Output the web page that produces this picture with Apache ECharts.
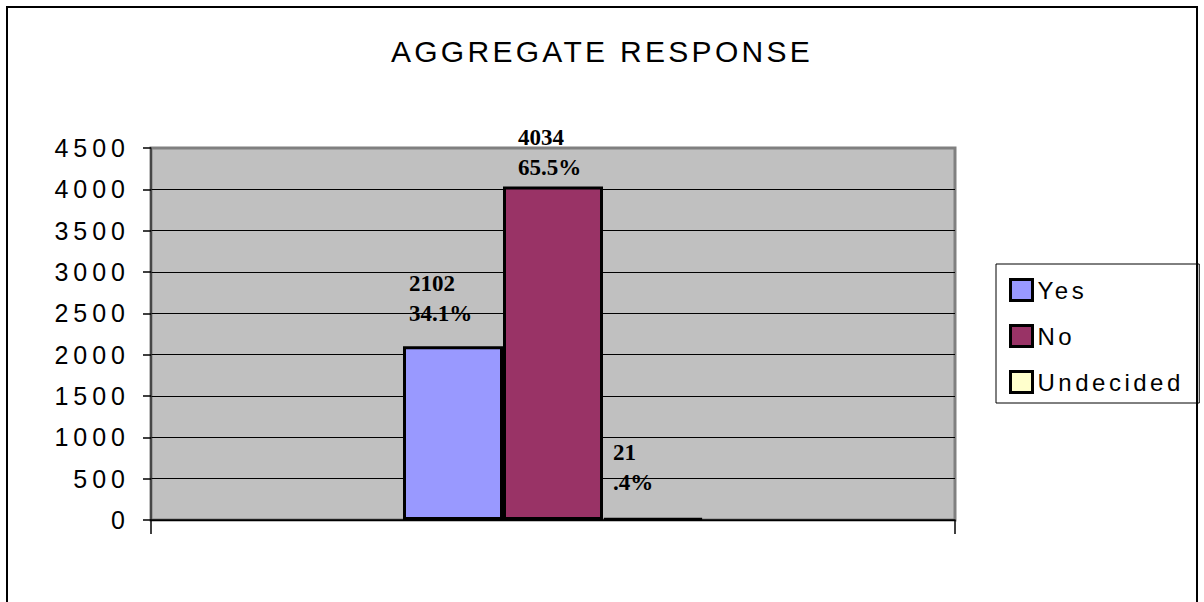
<!DOCTYPE html>
<html>
<head>
<meta charset="utf-8">
<script src="https://cdn.jsdelivr.net/npm/echarts@6/dist/echarts.min.js"></script>
<style>
  html, body { margin: 0; padding: 0; background: #fff; }
  #chart { width: 1204px; height: 602px; }
  #chart text[style*="30px"] { letter-spacing: 3.3px; }
  #chart text[style*="25px"] { letter-spacing: 5px; }
  #chart text[style*="24px"] { letter-spacing: 3.5px; }
</style>
</head>
<body>
<div id="chart"></div>
<script>
// ---- data ----
const titleText = 'AGGREGATE RESPONSE';
const categories = ['Aggregate'];
const seriesNames = ['Yes', 'No', 'Undecided'];
const yesValues = [2102];
const noValues = [4034];
const undecidedValues = [21];
const percentLabels = ['34.1%', '65.5%', '.4%'];
const yTicks = { min: 0, max: 4500, interval: 500 };

// ---- styling / layout (not data) ----
const colors = ['#9999FF', '#993366', '#FFFFCC'];
const labelOffsets = [[-44, 0], [-35, 0], [-40, 0]];
const labelDistances = [18, 4, 20];

const allValues = [yesValues, noValues, undecidedValues];

const chart = echarts.init(document.getElementById('chart'), null, { renderer: 'svg' });

const series = seriesNames.map((name, i) => ({
  name: name,
  type: 'bar',
  data: allValues[i],
  barWidth: 100,
  barGap: '0%',
  itemStyle: { color: colors[i], borderColor: '#000', borderWidth: 3 },
  label: {
    show: true,
    position: 'top',
    distance: labelDistances[i],
    offset: labelOffsets[i],
    align: 'left',
    formatter: (p) => p.value + '\n' + percentLabels[i],
    fontFamily: 'Liberation Serif',
    fontWeight: 'bold',
    fontSize: 23,
    lineHeight: 30,
    color: '#000'
  },
  emphasis: { disabled: true }
}));

const splitColors = [];
for (let v = yTicks.min; v <= yTicks.max; v += yTicks.interval) {
  splitColors.push(v === yTicks.max ? '#808080' : '#000');
}

chart.setOption({
  animation: false,
  backgroundColor: '#fff',
  title: {
    text: titleText,
    left: 'center',
    top: 31,
    textStyle: { fontFamily: 'Liberation Sans', fontWeight: 'normal', fontSize: 30, color: '#000' }
  },
  graphic: [{
    type: 'rect',
    shape: { x: 7, y: 7, width: 1190, height: 700 },
    style: { fill: 'none', stroke: '#000', lineWidth: 2 },
    silent: true,
    z: -10
  }],
  legend: {
    orient: 'vertical',
    left: 996,
    top: 264,
    padding: [14, 47, 9, 13],
    itemWidth: 22,
    itemHeight: 21,
    itemGap: 22,
    borderColor: '#000',
    borderWidth: 1,
    icon: 'rect',
    itemStyle: { borderColor: '#000', borderWidth: 3 },
    textStyle: { fontFamily: 'Liberation Sans', fontSize: 24, color: '#000' },
    data: seriesNames
  },
  grid: {
    left: 151, top: 148, right: 249, bottom: 82,
    show: true,
    backgroundColor: '#C0C0C0',
    borderColor: '#808080',
    borderWidth: 3
  },
  xAxis: {
    type: 'category',
    data: categories,
    axisLine: { lineStyle: { color: '#000', width: 1.5 } },
    axisTick: { show: true, length: 14, lineStyle: { color: '#000', width: 1.5 } },
    axisLabel: { show: false }
  },
  yAxis: {
    type: 'value',
    min: yTicks.min,
    max: yTicks.max,
    interval: yTicks.interval,
    axisLine: { show: true, lineStyle: { color: '#333', width: 1.5 } },
    axisTick: { show: true, length: 8, lineStyle: { color: '#000', width: 1.5 } },
    axisLabel: {
      margin: 21, fontFamily: 'Liberation Sans', fontSize: 25, color: '#000',
      formatter: (v) => String(v)
    },
    splitLine: { show: true, lineStyle: { color: splitColors, width: 1 } }
  },
  series: series
});
</script>
</body>
</html>
